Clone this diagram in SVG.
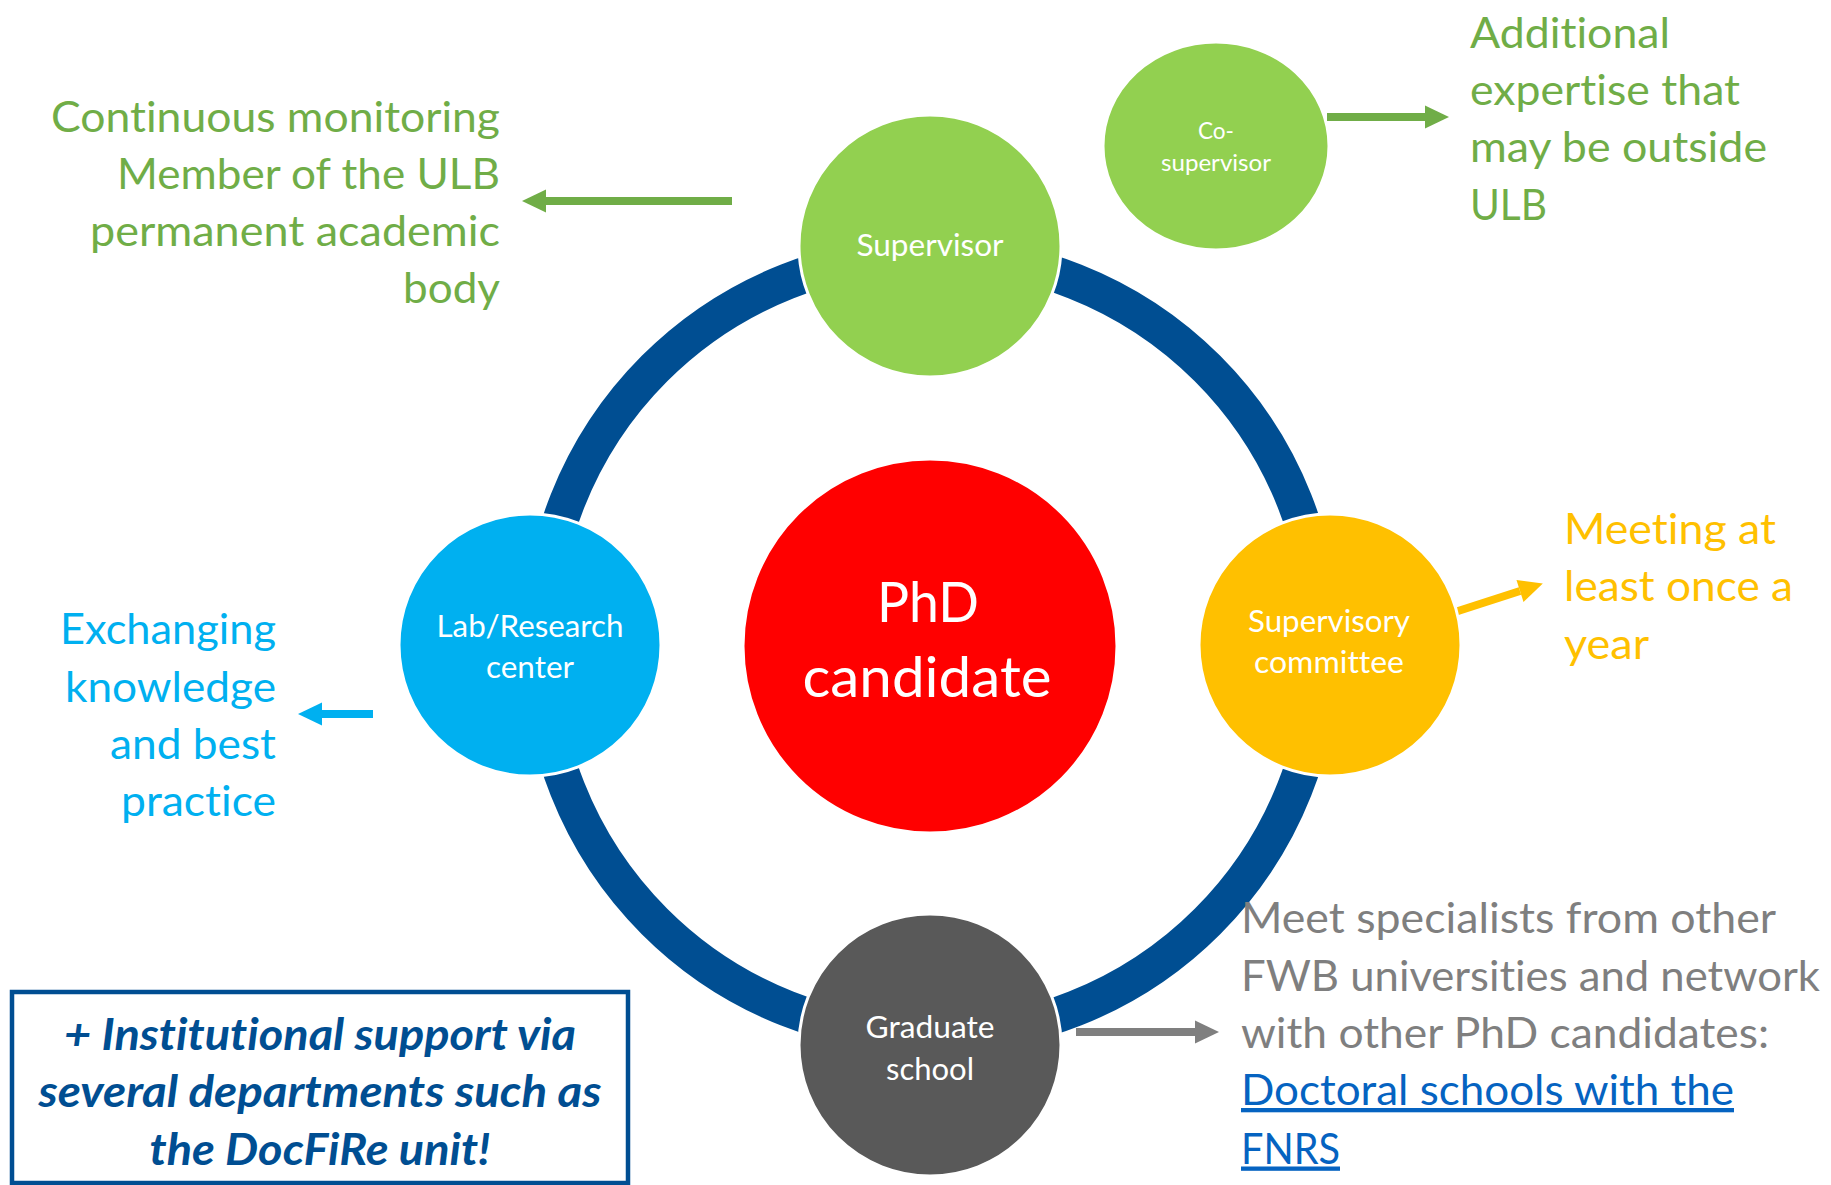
<svg xmlns="http://www.w3.org/2000/svg" width="1831" height="1185" viewBox="0 0 1831 1185">
<style>
  text { font-family: Lato, "Open Sans", "Liberation Sans", sans-serif; font-variant-ligatures: none; }
  .ann { font-size: 43px; }
  .green { fill: #70AD47; }
  .blue { fill: #00B0F0; }
  .yellow { fill: #FFC000; }
  .gray { fill: #7F7F7F; }
  .link { fill: #0563C1; text-decoration: underline; }
  .node-shape { stroke: #FFFFFF; stroke-width: 3; }
  .lbl { fill: #FFFFFF; font-size: 30.5px; text-anchor: middle; }
  .arrow { fill: none; stroke-width: 8; }
  .box-text { fill: #004E92; font-size: 43px; font-weight: bold; font-style: italic; text-anchor: middle; }
</style>
<defs>
  <marker id="head-green" markerUnits="userSpaceOnUse" markerWidth="24" markerHeight="24" refX="0" refY="11.5" orient="auto" overflow="visible">
    <path d="M0,0 L24,11.5 L0,23 Z" fill="#70AD47"/>
  </marker>
  <marker id="head-blue" markerUnits="userSpaceOnUse" markerWidth="24" markerHeight="24" refX="0" refY="11.5" orient="auto" overflow="visible">
    <path d="M0,0 L24,11.5 L0,23 Z" fill="#00B0F0"/>
  </marker>
  <marker id="head-yellow" markerUnits="userSpaceOnUse" markerWidth="24" markerHeight="24" refX="0" refY="11.5" orient="auto" overflow="visible">
    <path d="M0,0 L24,11.5 L0,23 Z" fill="#FFC000"/>
  </marker>
  <marker id="head-gray" markerUnits="userSpaceOnUse" markerWidth="24" markerHeight="24" refX="0" refY="11.5" orient="auto" overflow="visible">
    <path d="M0,0 L24,11.5 L0,23 Z" fill="#7F7F7F"/>
  </marker>
</defs>
<rect width="1831" height="1185" fill="#FFFFFF"/>

<g id="connectors">
  <circle id="ring" cx="931" cy="645" r="391" fill="none" stroke="#004E92" stroke-width="36"/>
  <line class="arrow" x1="732" y1="201" x2="546" y2="201" stroke="#70AD47" marker-end="url(#head-green)"/>
  <line class="arrow" x1="1327" y1="117" x2="1425" y2="117" stroke="#70AD47" marker-end="url(#head-green)"/>
  <line class="arrow" x1="373" y1="714" x2="322" y2="714" stroke="#00B0F0" marker-end="url(#head-blue)"/>
  <line class="arrow" x1="1455" y1="612" x2="1520" y2="591" stroke="#FFC000" stroke-width="7" marker-end="url(#head-yellow)"/>
  <line class="arrow" x1="1076" y1="1032" x2="1195" y2="1032" stroke="#7F7F7F" marker-end="url(#head-gray)"/>
</g>

<g id="node-phd">
  <circle class="node-shape" cx="930" cy="646" r="187" fill="#FF0000"/>
  <text class="lbl" x="928" y="622" style="font-size:56px" textLength="102" lengthAdjust="spacingAndGlyphs">PhD</text>
  <text class="lbl" x="927" y="697" style="font-size:56px" textLength="249" lengthAdjust="spacingAndGlyphs">candidate</text>
</g>

<g id="node-supervisor">
  <circle class="node-shape" cx="930" cy="246" r="131" fill="#92D050"/>
  <text class="lbl" x="930" y="256" textLength="147" lengthAdjust="spacingAndGlyphs">Supervisor</text>
</g>

<g id="node-cosupervisor">
  <ellipse class="node-shape" cx="1216" cy="146" rx="113" ry="104" fill="#92D050"/>
  <text class="lbl" x="1216" y="139" style="font-size:23.5px" textLength="36" lengthAdjust="spacingAndGlyphs">Co-</text>
  <text class="lbl" x="1216" y="171" style="font-size:23.5px" textLength="110" lengthAdjust="spacingAndGlyphs">supervisor</text>
</g>

<g id="node-lab">
  <circle class="node-shape" cx="530" cy="645" r="131" fill="#00B0F0"/>
  <text class="lbl" x="530" y="637" textLength="187" lengthAdjust="spacingAndGlyphs">Lab/Research</text>
  <text class="lbl" x="530" y="678" textLength="88" lengthAdjust="spacingAndGlyphs">center</text>
</g>

<g id="node-committee">
  <circle class="node-shape" cx="1330" cy="645" r="131" fill="#FFC000"/>
  <text class="lbl" x="1329" y="632" textLength="162" lengthAdjust="spacingAndGlyphs">Supervisory</text>
  <text class="lbl" x="1329" y="673" textLength="150" lengthAdjust="spacingAndGlyphs">committee</text>
</g>

<g id="node-graduate">
  <circle class="node-shape" cx="930" cy="1045" r="131" fill="#595959"/>
  <text class="lbl" x="930" y="1038" textLength="129" lengthAdjust="spacingAndGlyphs">Graduate</text>
  <text class="lbl" x="930" y="1080" textLength="88" lengthAdjust="spacingAndGlyphs">school</text>
</g>

<g id="note-supervisor" class="ann green" text-anchor="end">
  <text x="500" y="131.5" textLength="449" lengthAdjust="spacingAndGlyphs">Continuous monitoring</text>
  <text x="500" y="188.5" textLength="383" lengthAdjust="spacingAndGlyphs">Member of the ULB</text>
  <text x="500" y="245.5" textLength="410" lengthAdjust="spacingAndGlyphs">permanent academic</text>
  <text x="500" y="302.5" textLength="97" lengthAdjust="spacingAndGlyphs">body</text>
</g>

<g id="note-cosupervisor" class="ann green">
  <text x="1470" y="47.5" textLength="200" lengthAdjust="spacingAndGlyphs">Additional</text>
  <text x="1470" y="104.5" textLength="270" lengthAdjust="spacingAndGlyphs">expertise that</text>
  <text x="1470" y="161.5" textLength="297" lengthAdjust="spacingAndGlyphs">may be outside</text>
  <text x="1470" y="219.5" textLength="77" lengthAdjust="spacingAndGlyphs">ULB</text>
</g>

<g id="note-committee" class="ann yellow">
  <text x="1564" y="543.5" textLength="212" lengthAdjust="spacingAndGlyphs">Meeting at</text>
  <text x="1564" y="600.5" textLength="229" lengthAdjust="spacingAndGlyphs">least once a</text>
  <text x="1564" y="658.5" textLength="85" lengthAdjust="spacingAndGlyphs">year</text>
</g>

<g id="note-lab" class="ann blue" text-anchor="end">
  <text x="276" y="644" textLength="216" lengthAdjust="spacingAndGlyphs">Exchanging</text>
  <text x="276" y="702" textLength="211" lengthAdjust="spacingAndGlyphs">knowledge</text>
  <text x="276" y="759" textLength="166" lengthAdjust="spacingAndGlyphs">and best</text>
  <text x="276" y="816" textLength="155" lengthAdjust="spacingAndGlyphs">practice</text>
</g>

<g id="note-graduate" class="ann">
  <text class="gray" x="1241" y="933" textLength="535" lengthAdjust="spacingAndGlyphs">Meet specialists from other</text>
  <text class="gray" x="1241" y="990.5" textLength="579" lengthAdjust="spacingAndGlyphs">FWB universities and network</text>
  <text class="gray" x="1241" y="1047.5" textLength="528" lengthAdjust="spacingAndGlyphs">with other PhD candidates:</text>
  <text class="link" x="1241" y="1105" textLength="493" lengthAdjust="spacingAndGlyphs">Doctoral schools with the</text>
  <text class="link" x="1241" y="1163.5" textLength="99" lengthAdjust="spacingAndGlyphs">FNRS</text>
</g>

<g id="institutional-box">
  <rect x="12" y="992" width="616" height="191" fill="none" stroke="#004E92" stroke-width="4.5"/>
  <text class="box-text" x="320" y="1049.5" textLength="512" lengthAdjust="spacingAndGlyphs">+ Institutional support via</text>
  <text class="box-text" x="320" y="1106.5" textLength="563" lengthAdjust="spacingAndGlyphs">several departments such as</text>
  <text class="box-text" x="320" y="1165" textLength="341" lengthAdjust="spacingAndGlyphs">the DocFiRe unit!</text>
</g>
</svg>
